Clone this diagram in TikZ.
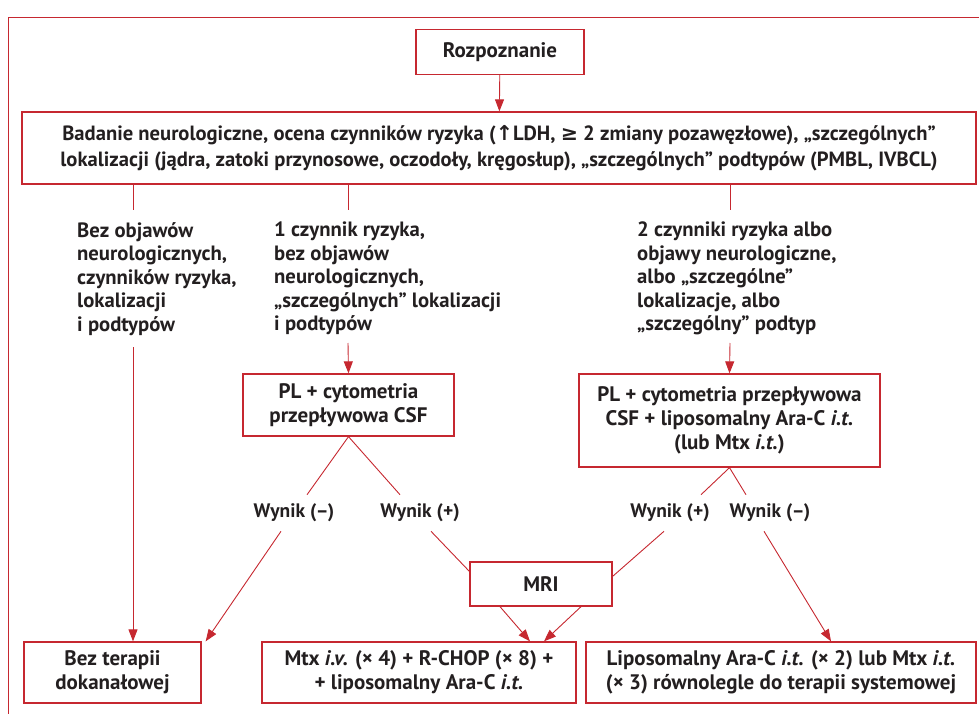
\documentclass[tikz,border=0pt]{standalone}
\usepackage{fontspec}
\setmainfont{PT Sans}
\newfontfamily\symfont{DejaVu Sans}
\usetikzlibrary{arrows.meta,calc}
\definecolor{redline}{RGB}{198,40,48}
\definecolor{txtcol}{RGB}{35,31,32}
\tikzset{
  redbox/.style={draw=redline, line width=1.3pt, inner sep=0pt, align=center, text=txtcol, font=\bfseries\fontsize{21}{24}\selectfont},
  crit/.style={inner sep=0pt, align=left, anchor=north west, text=txtcol, font=\bfseries\fontsize{20.7}{23.5}\selectfont},
  wyn/.style={inner sep=9pt, text=txtcol, font=\bfseries\fontsize{19.5}{23}\selectfont},
  conn/.style={draw=redline, line width=0.9pt},
  arr/.style={conn, -{Triangle[length=12pt,width=9pt]}}
}
\begin{document}
\begin{tikzpicture}[x=1pt,y=-1pt]
\useasboundingbox (0,0) rectangle (979,714);
\draw[redline, line width=1pt] (8,720) -- (8,18) -- (985,18);

\node[redbox, minimum width=168, minimum height=45] (rozp) at (500,52) {Rozpoznanie};
\node[redbox, minimum width=954, minimum height=72, font=\bfseries\fontsize{20.6}{26}\selectfont] (badanie) at (499,148)
  {Badanie neurologiczne, ocena czynników ryzyka ({\symfont↑}LDH, {\symfont≥} 2 zmiany pozawęzłowe), „szczególnych”\\
   lokalizacji (jądra, zatoki przynosowe, oczodoły, kręgosłup), „szczególnych” podtypów (PMBL, IVBCL)};

\node[crit] (bez) at (77,222) {Bez objawów\\neurologicznych,\\czynników ryzyka,\\lokalizacji\\i podtypów};
\node[crit] (jeden) at (274,222) {1 czynnik ryzyka,\\bez objawów\\neurologicznych,\\„szczególnych” lokalizacji\\i podtypów};
\node[crit] (dwa) at (637,222) {2 czynniki ryzyka albo\\objawy neurologiczne,\\albo „szczególne”\\lokalizacje, albo\\„szczególny” podtyp};

\node[redbox, minimum width=211, minimum height=62] (plA) at (348.5,405) {PL + cytometria\\przepływowa CSF};
\node[redbox, minimum width=301, minimum height=93] (plB) at (729.5,420.5)
  {PL + cytometria przepływowa\\CSF + liposomalny Ara-C \textit{i.t.}\\(lub Mtx \textit{i.t.})};

\node[wyn] (wynAm) at (294,513) {Wynik (–)};
\node[wyn] (wynAp) at (420,513) {Wynik (+)};
\node[wyn] (wynBp) at (670,513) {Wynik (+)};
\node[wyn] (wynBm) at (770,513) {Wynik (–)};

\node[redbox, minimum width=142, minimum height=44] (mri) at (541,584) {MRI};

\node[redbox, minimum width=177, minimum height=61] (bezter) at (112.5,672.5) {Bez terapii\\dokanałowej};
\node[redbox, minimum width=314, minimum height=61] (mtx) at (419,672.5)
  {Mtx \textit{i.v.} (× 4) + R-CHOP (× 8) +\\+ liposomalny Ara-C \textit{i.t.}};
\node[redbox, minimum width=390, minimum height=61] (rbox) at (781,672.5)
  {Liposomalny Ara-C \textit{i.t.} (× 2) lub Mtx \textit{i.t.}\\(× 3) równolegle do terapii systemowej};

\coordinate (s1) at (133,210);
\coordinate (s2) at (348,210);
\coordinate (s3) at (730,210);
\coordinate (e1) at (133,347);
\coordinate (e2) at (348,343);
\coordinate (e3) at (730,343);

\draw[arr] (rozp) -- (badanie);
\draw[conn] (badanie.south -| s1) -- (s1);
\draw[conn] (badanie.south -| s2) -- (s2);
\draw[conn] (badanie.south -| s3) -- (s3);
\draw[arr] (e1) -- (e1 |- bezter.north);
\draw[arr] (e2) -- (plA.north);
\draw[arr] (e3) -- (plB.north);
\draw[conn] (plA.south) -- ([xshift=13pt]wynAm.north);
\draw[conn] (plA.south) -- ([xshift=-20pt]wynAp.north);
\draw[conn] (plB.south) -- ([xshift=31pt]wynBp.north);
\draw[conn] (plB.south) -- ([xshift=-24pt]wynBm.north);
\draw[arr] ([xshift=-13pt]wynAm.south) -- ([xshift=4pt]bezter.north east);
\draw[conn] ([xshift=11pt]wynAp.south) -- ($(mri.north west)+(0,10)$);
\draw[conn] ([xshift=-6pt]wynBp.south) -- ($(mri.north east)+(0,15)$);
\draw[arr] ([xshift=-6pt]wynBm.south) -- ([xshift=50pt]rbox.north);
\draw[arr] ([xshift=-41pt]mri.south) -- ([xshift=111pt]mtx.north);
\draw[arr] ([xshift=40pt]mri.south) -- ([xshift=125pt]mtx.north);
\end{tikzpicture}
\end{document}
